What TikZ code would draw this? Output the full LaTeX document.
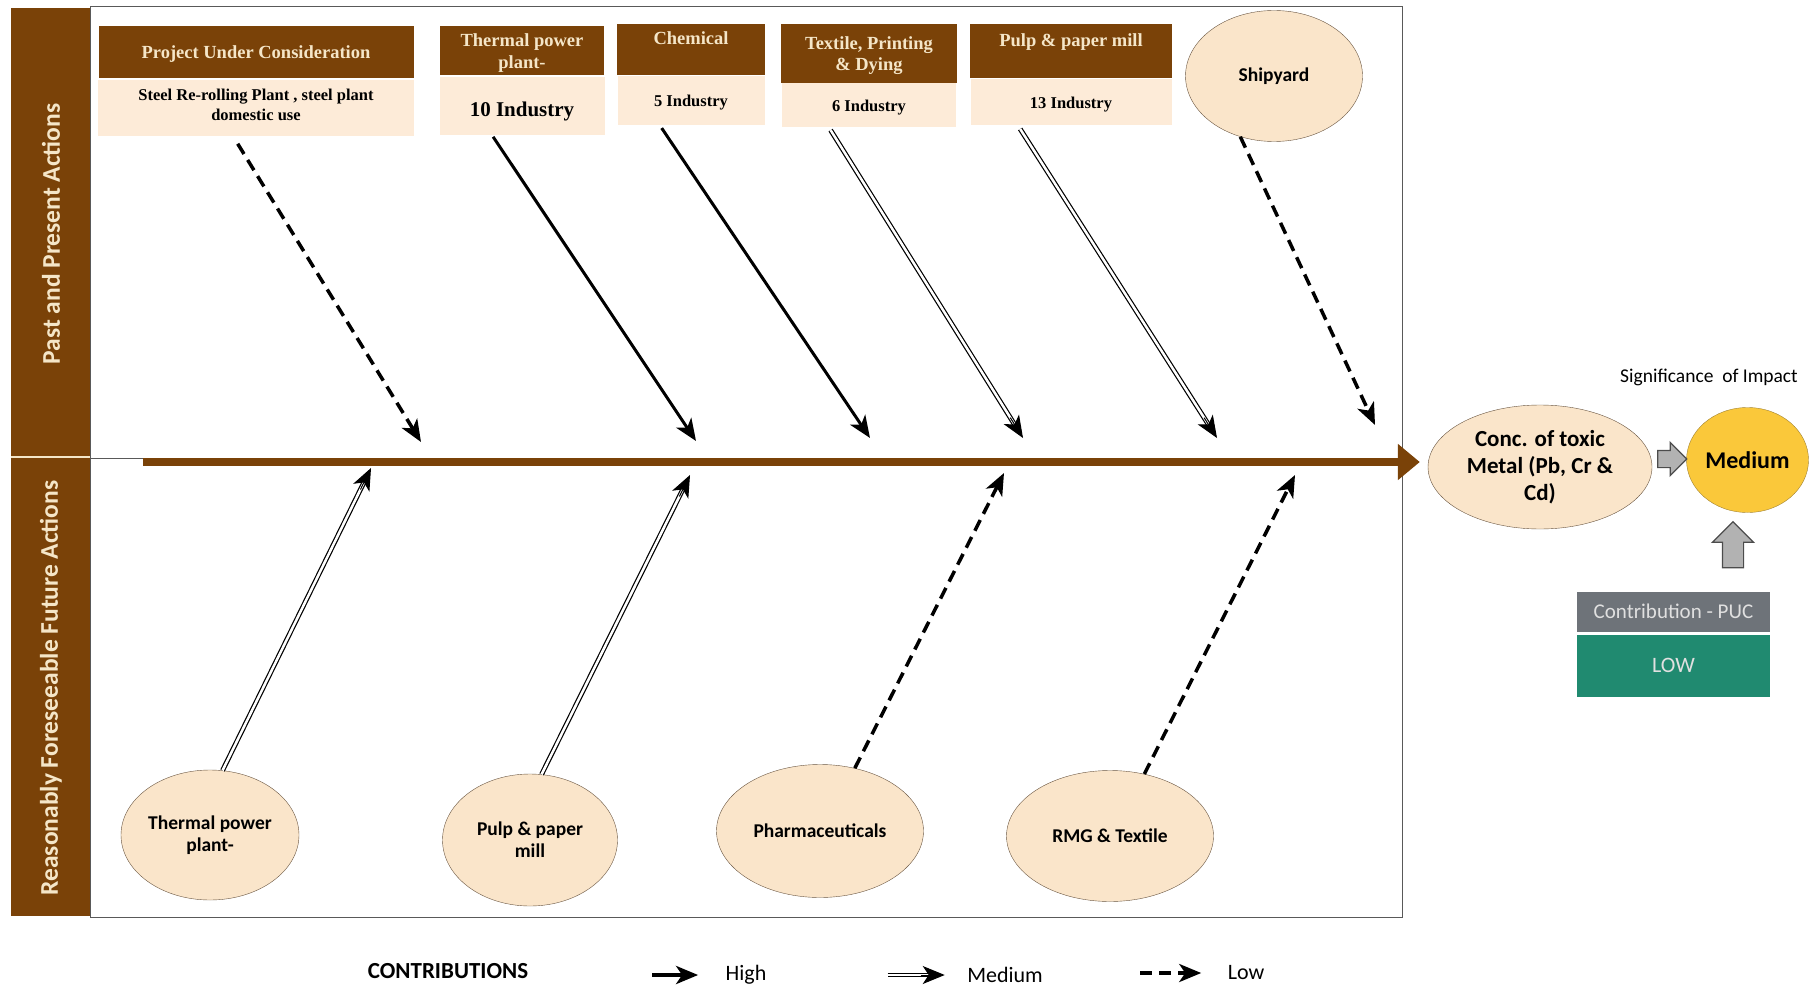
\documentclass[tikz,border=0pt]{standalone}
\usepackage{fontspec}
\setmainfont{Liberation Serif}
\setsansfont{Carlito}
\usetikzlibrary{arrows.meta}
\usetikzlibrary{shapes.geometric,shapes.arrows}
\usetikzlibrary{positioning,calc}
\definecolor{fishbrown}{RGB}{122,66,8}
\definecolor{cream}{RGB}{245,230,200}
\definecolor{bodyfill}{RGB}{253,235,216}
\definecolor{ovalfill}{RGB}{250,229,202}
\definecolor{ovalline}{RGB}{105,85,65}
\definecolor{gold}{RGB}{250,200,58}
\definecolor{goldline}{RGB}{160,130,50}
\definecolor{pucgray}{RGB}{110,115,121}
\definecolor{lowgreen}{RGB}{32,138,112}
\tikzset{hdr/.style={fill=fishbrown,text=cream,inner sep=0pt,align=center,text depth=0pt,
   font=\bfseries\fontsize{18.5}{21.5}\selectfont},
 hdrtop/.style={hdr,text depth=22pt},
 bodybox/.style={fill=bodyfill,inner sep=0pt,align=center,
   font=\bfseries\fontsize{16.5}{19.5}\selectfont},
 oval/.style={ellipse,draw=ovalline,fill=ovalfill,inner sep=0pt,align=center,
   font=\sffamily\bfseries\fontsize{19.5}{22}\selectfont},
 bandtext/.style={rotate=90,text=cream,font=\sffamily\bfseries\fontsize{25.5}{28}\selectfont},
 framed/.style={draw=black!65,line width=1pt},
 spine/.style={fishbrown,line width=8pt,-{Triangle[length=22pt,width=35pt]}},
 hiarrow/.style={line width=3pt,-{Stealth[length=22pt,width=18pt,inset=6pt]}},
 loarrow/.style={hiarrow,line width=3.5pt,dash pattern=on 12pt off 7pt},
 medline/.style={double,double distance=2.5pt,line width=1.2pt,shorten >=14pt},
 medtip/.style={line width=1pt,-{Stealth[length=22pt,width=18pt,inset=6pt]}},
 blockarr/.style={single arrow,draw=black!70,line width=1.2pt,fill=black!30,inner xsep=0pt},
 legend/.style={font=\sffamily\fontsize{22}{24}\selectfont},
 }
% double-lined arrow with a solid head
\newcommand{\mediumlink}[3][]{%
  \draw[medline,#1] (#2) -- (#3);
  \draw[medtip] ($(#3)!24pt!(#2)$) -- (#3);}

\begin{document}
\begin{tikzpicture}[x=1pt,y=-1pt]
\useasboundingbox (0,0) rectangle (1809,987);
% side band
\fill[fishbrown] (11,8) rectangle (90,916);
\draw[cream,line width=1.5pt] (11,457) -- (90,457);
\node[bandtext] (pastlbl) at (51,234) {Past and Present Actions};
\node[bandtext] (futurelbl) at (51,688) {Reasonably Foreseeable Future Actions};
% frame
\draw[framed] (90,7) rectangle (1402,917);
\draw[framed] (90,458) -- (143,458);
\coordinate (tail) at (143,462);

% past and present
\node[hdr,minimum width=315pt,minimum height=52pt] (puch) at (256,52.5) {Project Under Consideration};
\node[bodybox,text depth=6pt,minimum width=316pt,minimum height=56pt,below=1pt of puch] (pucb) {Steel Re-rolling Plant , steel plant\\domestic use};
\node[hdr,minimum width=164pt,minimum height=49pt] (thermh) at (522,51) {Thermal power\\plant-};
\node[bodybox,text depth=0pt,text height=21pt,minimum width=165pt,minimum height=58pt,below=1pt of thermh] (thermb) {\fontsize{21}{24}\selectfont 10 Industry};
\node[hdrtop,minimum width=148pt,minimum height=51pt] (chemh) at (691,49.5) {Chemical};
\node[bodybox,text depth=0pt,minimum width=147pt,minimum height=49pt,below=1pt of chemh] (chemb) {5 Industry};
\node[hdr,minimum width=176pt,minimum height=59pt] (textih) at (869,53.5) {Textile, Printing\\\& Dying};
\node[bodybox,text depth=0pt,minimum width=174pt,minimum height=44pt,below=0pt of textih] (textib) {6 Industry};
\node[hdrtop,minimum width=202pt,minimum height=54pt] (pulph) at (1071,51) {Pulp \& paper mill};
\node[bodybox,text depth=0pt,minimum width=201pt,minimum height=46pt,below=1pt of pulph] (pulpb) {13 Industry};
\node[oval,minimum width=177pt,minimum height=131pt] (shipyard) at (1274,76) {Shipyard};

% future
\node[oval,minimum width=178pt,minimum height=130pt] (thermf) at (210,835) {Thermal power\\plant-};
\node[oval,minimum width=175pt,minimum height=132pt] (pulpf) at (530,840) {Pulp \& paper\\mill};
\node[oval,minimum width=207pt,minimum height=133pt] (pharma) at (820,831) {Pharmaceuticals};
\node[oval,minimum width=207pt,minimum height=131pt] (rmg) at (1110,836) {RMG \& Textile};

% impact
\node[oval,minimum width=224pt,minimum height=124pt,
  font=\sffamily\bfseries\fontsize{23}{27}\selectfont] (conc) at (1540,467) {Conc. of toxic\\Metal (Pb, Cr \&\\Cd)};
\node[oval,fill=gold,draw=goldline,minimum width=122pt,minimum height=105pt,
  font=\sffamily\bfseries\fontsize{24}{27}\selectfont] (impact) at (1747.5,460) {Medium};
\node[font=\sffamily\fontsize{19.5}{22}\selectfont] (sigimp) at (1709,377) {Significance\ \ of Impact};
\node[blockarr,inner ysep=8pt,minimum height=29pt,single arrow head extend=8pt] (toimpact) at (1668,459) {};
\node[blockarr,rotate=90,inner ysep=10pt,minimum height=46pt,single arrow head extend=10pt] (fromcontrib) at (1733,550) {};
\node[fill=pucgray,text=black!12,minimum width=193pt,minimum height=40pt,inner sep=0pt,
  font=\sffamily\fontsize{21}{24}\selectfont] (puc) at (1673.5,611.5) {Contribution - PUC};
\node[fill=lowgreen,text=black!12,minimum width=193pt,minimum height=62pt,inner sep=0pt,
  font=\sffamily\fontsize{22}{24}\selectfont,below=3pt of puc] (pucval) {LOW};

% spine
\draw[spine,shorten >=8pt] (tail) -- (conc.west |- tail);

% arrows down
\coordinate (e1) at (421,442);
\coordinate (e2) at (696,441);
\coordinate (e3) at (870,438);
\coordinate (e4) at (1023,438);
\coordinate (e5) at (1217,438);
\coordinate (e6) at (1375,425);
\draw[loarrow,shorten <=9pt] ([xshift=-23pt]pucb.south) -- (e1);
\draw[hiarrow,shorten <=2pt] ([xshift=-30pt]thermb.south) -- (e2);
\draw[hiarrow,shorten <=3pt] ([xshift=-31pt]chemb.south) -- (e3);
\mediumlink[shorten <=3pt]{[xshift=-40pt]textib.south}{e4}
\mediumlink[shorten <=4pt]{[xshift=-53pt]pulpb.south}{e5}
\draw[loarrow] (shipyard.-119) -- (e6);

% arrows up
\coordinate (u1) at (371,468);
\coordinate (u2) at (690,475);
\coordinate (u3) at (1004,473);
\coordinate (u4) at (1295,475);
\mediumlink{thermf.79}{u1}
\mediumlink{pulpf.80}{u2}
\draw[loarrow] (pharma.61) -- (u3);
\draw[loarrow] (rmg.61) -- (u4);

% legend
\node[legend,font=\sffamily\bfseries\fontsize{23}{25}\selectfont] (contrib) at (448,971) {CONTRIBUTIONS};
\node[legend] (lhigh) at (746,975) {High};
\node[legend] (lmed) at (1005,975) {Medium};
\node[legend] (llow) at (1246,973) {Low};
\coordinate (lmedstart) at ([xshift=-76pt]lmed.west);
\coordinate (lmedend) at ([xshift=-19pt]lmed.west);
\draw[hiarrow,line width=4pt] ([xshift=-70pt]lhigh.west) -- ([xshift=-24pt]lhigh.west);
\mediumlink{lmedstart}{lmedend}
\draw[loarrow] ([xshift=-84pt]llow.west) -- ([xshift=-23pt]llow.west);
\end{tikzpicture}
\end{document}
